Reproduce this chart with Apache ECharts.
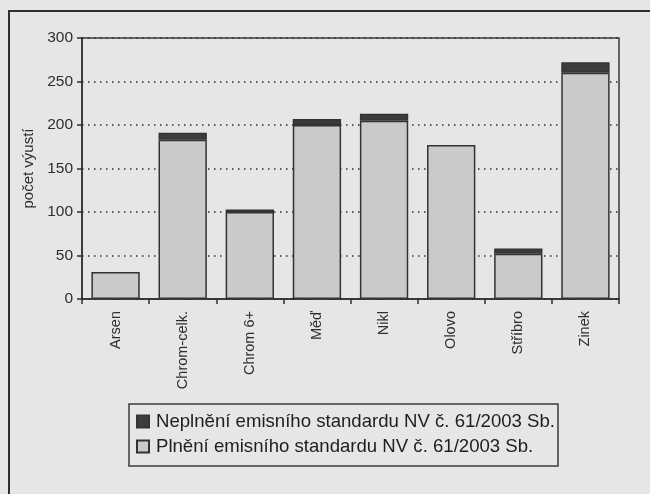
<!DOCTYPE html>
<html>
<head>
<meta charset="utf-8">
<script src="https://cdn.jsdelivr.net/npm/echarts@6/dist/echarts.min.js"></script>
<style>
  html, body { margin: 0; padding: 0; background: #e6e6e6; }
  #chart { width: 650px; height: 494px; }
</style>
</head>
<body>
<div id="chart"></div>
<script>
// categories and values
const categories = ["Arsen", "Chrom-celk.", "Chrom 6+", "Měď", "Nikl", "Olovo", "Stříbro", "Zinek"];
const plneni = [31, 183, 100, 200, 205, 177, 52, 260];
const neplneni = [null, 8, 3, 7, 8, null, 6, 12];
const yTicks = { min: 0, max: 300, step: 50 };

const nameNe = "Neplnění emisního standardu NV č. 61/2003 Sb.";
const namePl = "Plnění emisního standardu NV č. 61/2003 Sb.";

const chart = echarts.init(document.getElementById("chart"));

const option = {
  backgroundColor: "#e6e6e6",
  textStyle: { fontFamily: "Liberation Sans, Arial, sans-serif" },
  animation: false,
  graphic: [
    {
      // outer frame of the figure (runs off the page on right/bottom)
      type: "rect",
      shape: { x: 9, y: 11, width: 700, height: 600 },
      style: { fill: "none", stroke: "#2e2e2e", lineWidth: 2 },
      silent: true,
    },
  ],
  grid: {
    left: 82,
    right: 31,
    top: 38,
    bottom: 195,
    show: true,
    borderColor: "#3a3a3a",
    borderWidth: 1.5,
    backgroundColor: "transparent",
  },
  legend: {
    orient: "vertical",
    left: 129,
    top: 404,
    padding: [8, 3, 10, 7],
    icon: "rect",
    itemWidth: 12,
    itemHeight: 12,
    itemGap: 6,
    borderColor: "#3a3a3a",
    borderWidth: 1.5,
    data: [nameNe, namePl],
    textStyle: {
      fontSize: 18.6,
      color: "#1e1e1e",
      padding: [0, 0, 0, 2],
      fontFamily: "Liberation Sans, Arial, sans-serif",
    },
  },
  xAxis: {
    type: "category",
    data: categories,
    axisLine: { lineStyle: { color: "#2e2e2e", width: 1.5 } },
    axisTick: { show: true, length: 5, lineStyle: { color: "#2e2e2e", width: 1.5 } },
    axisLabel: { rotate: 90, fontSize: 14.5, color: "#2e2e2e", margin: 12 },
  },
  yAxis: {
    type: "value",
    min: yTicks.min,
    max: yTicks.max,
    interval: yTicks.step,
    name: "počet výustí",
    nameLocation: "middle",
    nameRotate: 90,
    nameGap: 43,
    nameTextStyle: { fontSize: 15, color: "#2e2e2e" },
    axisLine: { show: true, lineStyle: { color: "#2e2e2e", width: 1.5 } },
    axisTick: { show: true, length: 5, lineStyle: { color: "#2e2e2e", width: 1.5 } },
    axisLabel: { fontSize: 15.5, color: "#2e2e2e", margin: 9 },
    splitLine: { show: true, lineStyle: { color: "#2e2e2e", width: 1.5, type: [1.5, 4.5] } },
  },
  series: [
    {
      name: namePl,
      type: "bar",
      stack: "total",
      barCategoryGap: "28%",
      data: plneni,
      itemStyle: { color: "#cacaca", borderColor: "#333", borderWidth: 1.5 },
    },
    {
      name: nameNe,
      type: "bar",
      stack: "total",
      barCategoryGap: "28%",
      data: neplneni,
      itemStyle: { color: "#3c3c3c", borderColor: "#333", borderWidth: 1.5 },
    },
  ],
};

chart.setOption(option);
</script>
</body>
</html>
